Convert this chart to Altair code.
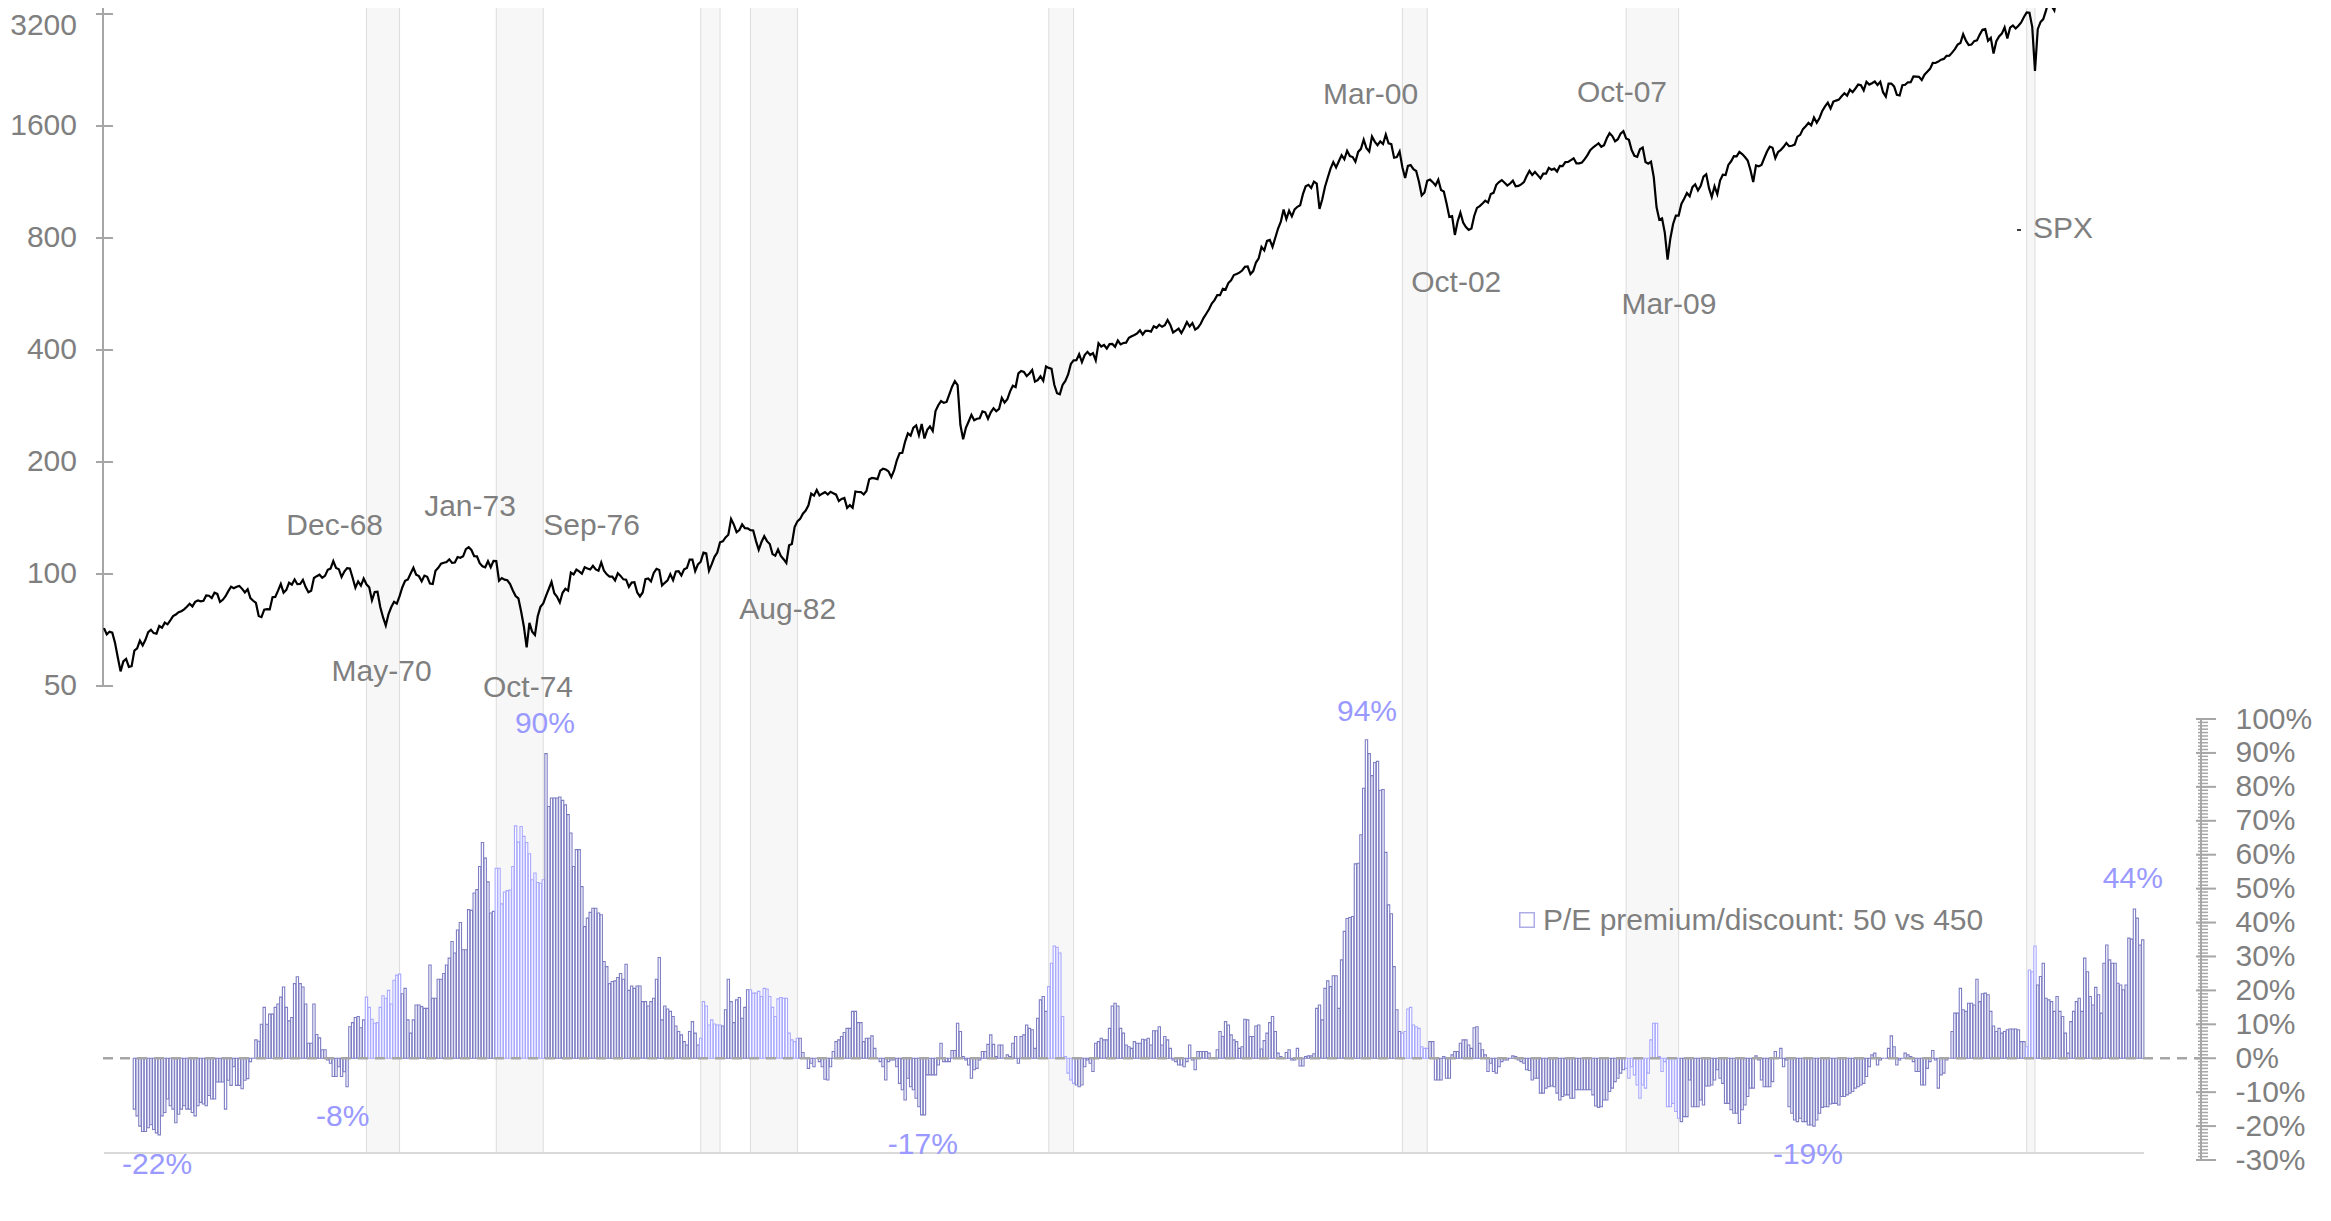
import altair as alt
import pandas as pd

# ---------------- data ----------------
# S&P 500 month-end closes, first value = Dec 1961
spx_1960s = [71.55,
    68.84, 69.96, 69.55, 65.24, 59.63, 54.75, 58.23, 59.12, 56.27, 56.52, 62.26, 63.10,
    66.20, 64.29, 66.57, 69.80, 70.80, 69.37, 69.13, 72.50, 71.70, 74.01, 73.23, 75.02,
    77.04, 77.80, 78.98, 79.46, 80.37, 81.69, 83.18, 81.83, 84.18, 84.86, 84.42, 84.75,
    87.56, 87.43, 86.16, 89.11, 88.42, 84.12, 85.25, 87.17, 89.96, 92.42, 91.61, 92.43,
    92.88, 91.22, 89.23, 91.06, 86.13, 84.74, 83.60, 77.10, 76.56, 80.20, 80.45, 80.33,
    86.61, 86.78, 90.20, 94.01, 89.08, 90.64, 94.75, 93.64, 96.71, 93.90, 94.00, 96.47,
    92.24, 89.36, 90.20, 97.59, 98.68, 99.58, 97.74, 98.86, 102.67, 103.41, 108.37, 103.86,
    103.01, 98.13, 101.51, 103.69, 103.46, 97.71, 91.83, 95.51, 93.12, 97.24, 93.81, 92.06]
spx_1970s = [
    85.02, 89.50, 89.63, 81.52, 76.55, 72.72, 78.05, 81.52, 84.21, 83.25, 87.20, 92.15,
    95.88, 96.75, 100.31, 103.95, 99.63, 98.70, 95.58, 99.03, 98.34, 94.23, 93.99, 102.09,
    103.94, 106.57, 107.20, 107.67, 109.53, 107.14, 107.39, 111.09, 110.55, 111.58, 116.67, 118.05,
    116.03, 111.68, 111.52, 106.97, 104.95, 104.26, 108.22, 104.25, 108.43, 108.29, 95.96, 97.55,
    96.57, 96.22, 93.98, 90.31, 87.28, 86.00, 79.31, 72.15, 63.54, 73.90, 69.97, 68.56,
    76.98, 81.59, 83.36, 87.30, 91.15, 95.19, 88.75, 86.88, 83.87, 89.04, 91.24, 90.19,
    100.86, 99.71, 102.77, 101.64, 100.18, 104.28, 103.44, 102.91, 105.24, 102.90, 102.10, 107.46,
    102.03, 99.82, 98.42, 98.44, 96.12, 100.48, 98.85, 96.77, 96.53, 92.34, 94.83, 95.10,
    89.25, 87.04, 89.21, 96.83, 97.24, 95.53, 100.68, 103.29, 102.54, 93.15, 94.70, 96.11,
    99.93, 96.28, 101.59, 101.76, 99.08, 102.91, 103.81, 109.32, 109.32, 101.82, 106.16, 107.94]
spx_1980s = [
    114.16, 113.66, 102.09, 106.29, 111.24, 114.24, 121.67, 122.38, 125.46, 127.47, 140.52, 135.76,
    129.55, 131.27, 136.00, 132.81, 132.59, 131.21, 130.92, 122.79, 116.18, 121.89, 126.35, 122.55,
    120.40, 113.11, 111.96, 116.44, 111.88, 109.61, 107.09, 119.51, 120.42, 133.71, 138.54, 140.64,
    145.30, 148.06, 152.96, 164.42, 162.39, 168.11, 162.56, 164.40, 166.07, 163.55, 166.40, 164.93,
    163.41, 157.06, 159.18, 160.05, 150.55, 153.18, 150.66, 166.68, 166.10, 166.09, 163.58, 167.24,
    179.63, 181.18, 180.66, 179.83, 189.55, 191.85, 190.92, 188.63, 182.08, 189.82, 202.17, 211.28,
    211.78, 226.92, 238.90, 235.52, 247.35, 250.84, 236.12, 252.93, 231.32, 243.98, 249.22, 242.17,
    274.08, 284.20, 291.70, 288.36, 290.10, 304.00, 318.66, 329.80, 321.83, 251.79, 230.30, 247.08,
    257.07, 267.82, 258.89, 261.33, 262.16, 273.50, 272.02, 261.52, 271.91, 278.97, 273.70, 277.72,
    297.47, 288.86, 294.87, 309.64, 320.52, 317.98, 346.08, 351.45, 349.15, 340.36, 345.99, 353.40]
spx_1990s = [
    329.08, 331.89, 339.94, 330.80, 361.23, 358.02, 356.15, 322.56, 306.05, 304.00, 322.22, 330.22,
    343.93, 367.07, 375.22, 375.35, 389.83, 371.16, 387.81, 395.43, 387.86, 392.45, 375.22, 417.09,
    408.79, 412.70, 403.69, 414.95, 415.35, 408.14, 424.21, 414.03, 417.80, 418.68, 431.35, 435.71,
    438.78, 443.38, 451.67, 440.19, 450.19, 450.53, 448.13, 463.56, 458.93, 467.83, 461.79, 466.45,
    481.61, 467.14, 445.77, 450.91, 456.50, 444.27, 458.26, 475.49, 462.69, 472.35, 453.69, 459.27,
    470.42, 487.39, 500.71, 514.71, 533.40, 544.75, 562.06, 561.88, 584.41, 581.50, 605.37, 615.93,
    636.02, 640.43, 645.50, 654.17, 669.12, 670.63, 639.95, 651.99, 687.33, 705.27, 757.02, 740.74,
    786.16, 790.82, 757.12, 801.34, 848.28, 885.14, 954.29, 899.47, 947.28, 914.62, 955.40, 970.43,
    980.28, 1049.34, 1101.75, 1111.75, 1090.82, 1133.84, 1120.67, 957.28, 1017.01, 1098.67, 1163.63, 1229.23,
    1279.64, 1238.33, 1286.37, 1335.18, 1301.84, 1372.71, 1328.72, 1320.41, 1282.71, 1362.93, 1388.91, 1469.25]
spx_2000s = [
    1394.46, 1366.42, 1498.58, 1452.43, 1420.60, 1454.60, 1430.83, 1517.68, 1436.51, 1429.40, 1314.95, 1320.28,
    1366.01, 1239.94, 1160.33, 1249.46, 1255.82, 1224.42, 1211.23, 1133.58, 1040.94, 1059.78, 1139.45, 1148.08,
    1130.20, 1106.73, 1147.39, 1076.92, 1067.14, 989.82, 911.62, 916.07, 815.28, 885.76, 936.31, 879.82,
    855.70, 841.15, 848.18, 916.92, 963.59, 974.50, 990.31, 1008.01, 995.97, 1050.71, 1058.20, 1111.92,
    1131.13, 1144.94, 1126.21, 1107.30, 1120.68, 1140.84, 1101.72, 1104.24, 1114.58, 1130.20, 1173.82, 1211.92,
    1181.27, 1203.60, 1180.59, 1156.85, 1191.50, 1191.33, 1234.18, 1220.33, 1228.81, 1207.01, 1249.48, 1248.29,
    1280.08, 1280.66, 1294.83, 1310.61, 1270.09, 1270.20, 1276.66, 1303.82, 1335.85, 1377.94, 1400.63, 1418.30,
    1438.24, 1406.82, 1420.86, 1482.37, 1530.62, 1503.35, 1455.27, 1473.99, 1526.75, 1549.38, 1481.14, 1468.36,
    1378.55, 1330.63, 1322.70, 1385.59, 1400.38, 1280.00, 1267.38, 1282.83, 1166.36, 968.75, 896.24, 903.25,
    825.88, 700.00, 797.87, 872.81, 919.14, 919.32, 987.48, 1020.62, 1057.08, 1036.19, 1095.63, 1115.10]
spx_2010s = [
    1073.87, 1104.49, 1169.43, 1186.69, 1089.41, 1030.71, 1101.60, 1049.33, 1141.20, 1183.26, 1180.55, 1257.64,
    1286.12, 1327.22, 1325.83, 1363.61, 1345.20, 1320.64, 1292.28, 1218.89, 1131.42, 1253.30, 1246.96, 1257.60,
    1312.41, 1365.68, 1408.47, 1397.91, 1310.33, 1362.16, 1379.32, 1406.58, 1440.67, 1412.16, 1416.18, 1426.19,
    1498.11, 1514.68, 1569.19, 1597.57, 1630.74, 1606.28, 1685.73, 1632.97, 1681.55, 1756.54, 1805.81, 1848.36,
    1782.59, 1859.45, 1872.34, 1883.95, 1923.57, 1960.23, 1930.67, 2003.37, 1972.29, 2018.05, 2067.56, 2058.90,
    1994.99, 2104.50, 2067.89, 2085.51, 2107.39, 2063.11, 2103.84, 1972.18, 1920.03, 2079.36, 2080.41, 2043.94,
    1940.24, 1932.23, 2059.74, 2065.30, 2096.95, 2098.86, 2173.60, 2170.95, 2168.27, 2126.15, 2198.81, 2238.83,
    2278.87, 2363.64, 2362.72, 2384.20, 2411.80, 2423.41, 2470.30, 2471.65, 2519.36, 2575.26, 2647.58, 2673.61,
    2823.81, 2713.83, 2640.87, 2648.05, 2705.27, 2718.37, 2816.29, 2901.52, 2913.98, 2711.74, 2760.17, 2506.85,
    2704.10, 2784.49, 2834.40, 2945.83, 2752.06, 2941.76, 2980.38, 2926.46, 2976.74, 3037.56, 3140.98, 3230.78]
spx_2020s = [
    3225.52, 2954.22, 2250.00, 2912.43, 3044.31, 3100.29, 3271.12, 3500.31, 3363.00, 3269.96, 3621.63, 3756.07,
    3714.24, 3811.15, 3972.89, 4181.17, 4204.11, 4297.50, 4395.26, 4522.68, 4307.54, 4605.38, 4567.00, 4766.18,
    4515.55, 4373.94, 4530.41, 4131.93, 4132.15, 3785.38, 4130.29, 3955.00, 3585.62, 3871.98, 4080.11, 3839.50,
    4076.60, 3970.15, 4109.31, 4169.48, 4179.83, 4450.38, 4588.96, 4507.66, 4288.05, 4193.80, 4567.80, 4769.83]

# P/E premium/discount (%), top 50 vs rest 450, monthly, first value = Dec 1962
pe_1960s = [-15,
    -17, -20, -21.6, -21.6, -20.5, -19.6, -21, -22, -22.6, -17, -16, -12,
    -14, -15, -19, -16.5, -15, -14, -15, -15, -16, -17, -14, -13,
    -13.5, -14, -11, -12, -12, -7, -7, -7, -15, -6.5, -8, -2.5,
    -8, -8, -9, -6.5, -6, -1, 0, 5.4, 5, 10, 15, 10,
    13, 13, 15, 16, 18, 21, 15, 11, 12, 22, 24, 22,
    21, 16, 4.4, 4.4, 16, 7, 6, 2.5, 2.5, -0.5, -1.5, -5.4,
    -5.4, -2.5, -5.4, -4, -8.4, 9.3, 10.5, 12, 12.3, 9, 11.3, 18]
pe_1970s = [
    15, 11.5, 10.3, 10.5, 15, 18.4, 17.7, 20, 16, 23, 24.5, 24.8,
    19, 20.6, 11.3, 7.4, 11.3, 15.7, 15.7, 15.2, 14.7, 14.7, 27.5, 17.7,
    17.7, 23.3, 23.3, 25, 27.5, 29.5, 34.4, 31, 37.8, 40, 32, 32,
    43.8, 43.6, 48.7, 49.7, 56.5, 63.6, 59, 52, 42.8, 43.3, 56, 56,
    45.5, 49, 49.4, 49.6, 56.5, 68.5, 63.7, 68.3, 65.4, 63.6, 60.3, 52.6,
    54.6, 51.8, 51.6, 52.6, 89.8, 74.2, 76.7, 76.7, 76.7, 77, 76, 74.7,
    71.8, 66.4, 56.5, 61.5, 61.5, 50.6, 38.8, 41.3, 43, 44.2, 44.2, 42.8,
    42.3, 28.5, 27, 22, 22.6, 22.8, 23.8, 25, 23.3, 27.7, 20, 21.3,
    20.6, 21.3, 21.3, 16.7, 16.7, 15.4, 16.7, 17.7, 23.3, 29.7, 11.3, 15.4,
    14.5, 13.8, 12.3, 9.5, 7.9, 6.9, 4.9, 3.9, 7.9, 10.8, 7.4, 3.9]
pe_1980s = [
    5.9, 16.7, 15.4, 9.8, 11.3, 10.1, 9.8, 9.8, 9.5, 14.3, 23.3, 16.7,
    10.5, 17.2, 17.9, 11.8, 15, 20.2, 20.2, 19.2, 19.2, 19.7, 18.2, 20.6,
    20.4, 18.2, 15, 12.3, 17.5, 17.9, 17.7, 17.7, 7.4, 5.4, 4.9, 5.9,
    5.9, 1.7, 0, -3, -1.5, -2.5, 0, -1, -2.5, -6.2, -6.4, -2.5,
    2, 4.9, 5.4, 6.4, 7.6, 8.8, 8.8, 13.8, 13.8, 10.5, 10.5, 4.9,
    5.9, 5.9, 6.6, 2.9, 0, -1, -2.5, -6.4, -1, -0.5, -0.5, -2.5,
    -7.4, -9.3, -12.3, -5.9, -8.4, -9.3, -11.8, -14.3, -16.7, -16.7, -4.9, -4.9,
    -4.9, -4.9, -2, 4.4, -1, -1, -1, 2.3, 2.3, 10.3, 7.9, 0.5,
    -0.5, -2, -5.9, -3.4, -3, -0.5, 2, 2, 4.1, 6.9, 4.1, 0.5,
    3.9, 3.9, 0, 1, 0.5, 4.4, 6.4, -1.5, 6.4, 6.9, 9.8, 8.8]
pe_1990s = [
    8.4, 2.9, 11.8, 17.2, 18.2, 13.8, 21.1, 28, 33.1, 32.7, 31, 12.3,
    0.5, -4.4, -6.4, -7.4, -7.9, -8.4, -7.9, -2.5, -0.5, -1.5, -3.9, 4.4,
    4.9, 5.9, 5.4, 5.4, 8.8, 15.4, 16.2, 15.4, 8.8, 7.4, 3.9, 3.4,
    2.9, 4.9, 4.4, 4.4, 5.6, 5.4, 5.9, 3.9, 8.1, 8.1, 9.3, 3.9,
    6.4, 5.4, 2.9, -0.5, -1, -2, -2, -2.5, -1, 3.9, -0.5, -3.4,
    2, 2, 2, 2, 1.5, 0, 0, 2.5, 7.9, 6.4, 10.8, 9.8,
    6.9, 5.4, 4.9, 2.9, 3.4, 11.5, 11.3, 6.4, 6.4, 9.5, 9.8, 2.7,
    5.2, 7.4, 10.5, 12.3, 7.9, 1.5, 0.5, 0, 1.7, 2.5, -0.5, -0.5,
    2.9, -2.3, -2.3, 0.5, 0.7, 0.7, 1.3, 14.7, 15.7, 11.3, 20.6, 22.8,
    21.1, 24.3, 24.3, 14.7, 29, 37.4, 41.2, 41.5, 41.8, 57.3, 57.5, 65.9]
pe_2000s = [
    79.6, 93.9, 89.8, 83.3, 87.2, 87.5, 79, 79.2, 60.7, 45.2, 42.6, 27,
    14.3, 7.9, 7.4, 7.9, 14.5, 15, 9.8, 9.3, 8.8, 3.4, 2.9, 2.9,
    4.9, 4.9, -6.4, -6.4, -6.4, 0.5, -5.9, -5.9, 1, 2, 2, 4.4,
    5.4, 5.4, 3.9, 2.9, 9, 9.3, 4.4, 2.5, 1, -3.9, -1.5, -3.9,
    -4.4, -2.5, -1, -0.5, -0.5, 0, 0.7, 0.5, -0.5, -1, -1.5, -3.4,
    -3.6, -6.4, -5.9, -5.9, -10.3, -10.3, -8.8, -8.4, -8.2, -8.4, -10.3, -12.3,
    -11.3, -10.8, -10.8, -11.8, -11.8, -9.3, -9.3, -9.3, -9.3, -9.3, -9.3, -10.8,
    -14.1, -14.5, -14.3, -12.3, -12.3, -9.8, -8.8, -6.9, -5.9, -4.4, -3.4, -3,
    -5.9, -2.5, -4.9, -7.9, -11.8, -7.9, -8.8, -4.4, 5.4, 10.3, 10.3, 0.5,
    -3.9, -1, -14.3, -14.3, -13.3, -15.7, -17.7, -18.7, -17.2, -17.2, -6.4, -14.3]
pe_2010s = [
    -14.3, -14.3, -12.3, -13.8, -8.2, -8.2, -7.9, -6.4, -3.4, -5.9, -7.4, -13.3,
    -13.3, -15.2, -16.2, -16.2, -19.2, -15.2, -13.8, -11.3, -8.8, -8.8, 0.7, -0.5,
    -6.4, -8.4, -8.4, -8.4, -6.9, 2, 0, 2.9, -2.5, -0.5, -14.3, -16.2,
    -18.2, -18.7, -17.7, -18.7, -18.7, -19.7, -19.7, -20, -18.2, -16.2, -14.5, -14.3,
    -14.3, -13.5, -13.3, -13.3, -13.8, -11.3, -11.3, -10.8, -10.3, -9.8, -8.8, -8.4,
    -7.9, -7.4, -5.4, -2.5, 1, 1.5, -2, -0.5, 0, 0, 2.9, 6.6,
    3.4, -2, -0.5, 0, 1.5, 1, 0.5, -1, -3.9, -3.9, -7.9, -7.9,
    -3, -1, 2.3, -0.5, -8.8, -4.9, -4.4, -0.5, 0, 7.9, 13.3, 13.3,
    20.6, 14.3, 13.8, 16.2, 16.2, 15.7, 23.3, 16.7, 19, 19.2, 18.7, 13.8,
    9.5, 7.9, 8.8, 7.4, 7.9, 8.4, 8.6, 8.6, 8.6, 8.4, 4.9, 4.9]
pe_2020s = [
    3.4, 26, 25.5, 33.1, 21.6, 24.1, 28, 17.7, 17.2, 16.7, 13.8, 18.2,
    13.8, 12.3, 7.4, 1.5, 10.8, 13.8, 16.7, 17.7, 13.8, 29.5, 25.5, 18.2,
    15.7, 20.9, 18.7, 13.3, 28, 33.4, 29, 28, 28, 22.1, 21.6, 20.2,
    21.6, 35.4, 35.1, 44, 41.3, 33.4, 34.9]

# recessions (peak month -> trough month)
rec_start_year = [1969, 1973, 1980, 1981, 1990, 2001, 2007, 2020]
rec_start_month = [12, 11, 1, 7, 7, 3, 12, 1]
rec_end_year = [1970, 1975, 1980, 1982, 1991, 2001, 2009, 2020]
rec_end_month = [11, 3, 7, 11, 3, 11, 6, 3]

year_ticks = list(range(1962, 2023, 3))
spx_ticks = [50, 100, 200, 400, 800, 1600, 3200]
pct_ticks = list(range(-30, 101, 10))
pct_minor = list(range(-30, 101, 1))

spx_label_text = ["Dec-68", "May-70", "Jan-73", "Oct-74", "Sep-76", "Aug-82",
                  "Mar-00", "Oct-02", "Oct-07", "Mar-09"]
spx_label_year = [1968, 1970, 1973, 1974, 1976, 1982, 2000, 2002, 2007, 2009]
spx_label_month = [12, 5, 1, 10, 9, 8, 3, 10, 10, 3]
spx_label_level = [134.5, 54.5, 151.4, 49.4, 134.5, 80.1, 1938, 605, 1962, 528]

pct_label_text = ["-22%", "-8%", "90%", "-17%", "94%", "-19%", "44%"]
pct_label_x = [1963.6, 1969.2, 1975.3, 1986.7, 2000.1, 2013.4, 2023.2]
pct_label_y = [-31.4, -17.3, 98.5, -25.6, 102.1, -28.5, 52.8]

# ---------------- frames ----------------
spx_vals = spx_1960s + spx_1970s + spx_1980s + spx_1990s + spx_2000s + spx_2010s + spx_2020s
spx_df = pd.DataFrame({"t": [1962 + i / 12 for i in range(len(spx_vals))], "v": spx_vals})

rec_df = pd.DataFrame({
    "s": [y + (m - 1) / 12 for y, m in zip(rec_start_year, rec_start_month)],
    "e": [y + m / 12 for y, m in zip(rec_end_year, rec_end_month)],
})
edge_df = pd.DataFrame({"edge": list(rec_df["s"]) + list(rec_df["e"])})

pe_vals = pe_1960s + pe_1970s + pe_1980s + pe_1990s + pe_2000s + pe_2010s + pe_2020s
pe_t = [1962 + (11 + i) / 12 for i in range(len(pe_vals))]
half = 0.42 / 12
pe_df = pd.DataFrame({"t": pe_t, "v": pe_vals})
pe_df["x0"] = pe_df["t"] - half
pe_df["x1"] = pe_df["t"] + half
pe_df["base"] = 0.0
pe_df["rec"] = ["in" if any((s <= t <= e) for s, e in zip(rec_df["s"], rec_df["e"])) else "out"
                for t in pe_df["t"]]

spx_lab_df = pd.DataFrame({
    "text": spx_label_text,
    "x": [y + (m - 0.5) / 12 for y, m in zip(spx_label_year, spx_label_month)],
    "y": spx_label_level,
})
pct_lab_df = pd.DataFrame({"text": pct_label_text, "x": pct_label_x, "y": pct_label_y})

xline_df = pd.DataFrame({"a": [1962.0], "b": [pe_t[-1] + 0.5 / 12]})
lax_df = pd.DataFrame({"lo": [50], "hi": [3321]})
lt_df = pd.DataFrame({"v": spx_ticks})
ltl_df = pd.DataFrame({"v": spx_ticks[:-1]})
ltl_top_df = pd.DataFrame({"v": spx_ticks[-1:]})
rax_df = pd.DataFrame({"lo": [-30], "hi": [100]})
rminor_df = pd.DataFrame({"v": pct_minor})
rmajor_df = pd.DataFrame({"v": pct_ticks})
zero_df = pd.DataFrame({"v": [0]})
one_df = pd.DataFrame({"a": [0]})

# ---------------- chart ----------------
W, H = 2098, 1152
FONT = "Liberation Sans"
GRAY = "#7f7f7f"
AXC = "#a6a6a6"
BLUE_TXT = "#9999ff"
BASE_Y = 1145  # pixel of the category axis line inside the plot

xscale = alt.Scale(domain=[1961.9698, 2025.2579], nice=False, zero=False)
logscale = alt.Scale(type="log", domain=[2.661, 3321], nice=False, zero=False)
pctscale = alt.Scale(domain=[-30, 309.6], nice=False, zero=False)

xaxis = alt.Axis(values=year_ticks, format="d", labelFontSize=30, labelFont=FONT,
                 labelColor=GRAY, ticks=False, tickSize=0, domain=False, grid=False,
                 labelPadding=25, title=None, labelOverlap=False, labelFlush=False,
                 labelBound=False)


def X(field, axis=None):
    return alt.X(field, type="quantitative", scale=xscale, axis=axis, title=None)


bands = alt.Chart(rec_df).mark_rect(fill="#f7f7f7", stroke=None).encode(
    x=X("s"), x2="e", y=alt.value(0), y2=alt.value(BASE_Y))

band_edges = alt.Chart(edge_df).mark_rule(color="#dcdcdc", strokeWidth=1).encode(
    x=X("edge"), y=alt.value(0), y2=alt.value(BASE_Y))

bars = alt.Chart(pe_df).mark_rect(fill="white", strokeWidth=1.1).encode(
    x=X("x0", axis=xaxis), x2="x1",
    y=alt.Y("v", type="quantitative", scale=pctscale, title=None,
            axis=alt.Axis(orient="right", values=pct_ticks, labelExpr="datum.value + '%'",
                          labelFontSize=30, labelFont=FONT, labelColor=GRAY, ticks=False,
                          tickSize=0, domain=False, grid=False, labelPadding=34,
                          labelOverlap=False, labelFlush=False, labelBound=False, title=None)),
    y2="base",
    stroke=alt.Stroke("rec", type="nominal",
                      scale=alt.Scale(domain=["out", "in"], range=["#7d7dc4", "#a8a8ff"]),
                      legend=None),
)

zero_line = alt.Chart(zero_df).mark_rule(color=AXC, strokeWidth=2.5, strokeDash=[10, 7]).encode(
    x=alt.value(0), x2=alt.value(W),
    y=alt.Y("v", type="quantitative", scale=pctscale, axis=None))

x_line = alt.Chart(xline_df).mark_rule(color="#d9d9d9", strokeWidth=2).encode(
    x=X("a"), x2="b", y=alt.value(BASE_Y))

left_axis = alt.Chart(lax_df).mark_rule(color=AXC, strokeWidth=2).encode(
    x=alt.value(0), y=alt.Y("lo", type="quantitative", scale=logscale, axis=None), y2="hi")
left_ticks = alt.Chart(lt_df).mark_rule(color=AXC, strokeWidth=2).encode(
    x=alt.value(-7), x2=alt.value(10),
    y=alt.Y("v", type="quantitative", scale=logscale, axis=None))
left_labels = alt.Chart(ltl_df).mark_text(
    align="right", baseline="middle", fontSize=30, font=FONT, color=GRAY).encode(
    x=alt.value(-26), y=alt.Y("v", type="quantitative", scale=logscale, axis=None),
    text=alt.Text("v", type="quantitative", format="d"))
left_label_top = alt.Chart(ltl_top_df).mark_text(
    align="right", baseline="middle", fontSize=30, font=FONT, color=GRAY, dy=12).encode(
    x=alt.value(-26), y=alt.Y("v", type="quantitative", scale=logscale, axis=None),
    text=alt.Text("v", type="quantitative", format="d"))

right_axis = alt.Chart(rax_df).mark_rule(color=AXC, strokeWidth=2).encode(
    x=alt.value(W), y=alt.Y("lo", type="quantitative", scale=pctscale, axis=None), y2="hi")
right_minor = alt.Chart(rminor_df).mark_rule(color=AXC, strokeWidth=1.5).encode(
    x=alt.value(W - 3), x2=alt.value(W + 7),
    y=alt.Y("v", type="quantitative", scale=pctscale, axis=None))
right_major = alt.Chart(rmajor_df).mark_rule(color=AXC, strokeWidth=2).encode(
    x=alt.value(W - 5), x2=alt.value(W + 15),
    y=alt.Y("v", type="quantitative", scale=pctscale, axis=None))

spx_line = alt.Chart(spx_df).mark_line(color="black", strokeWidth=2.2, clip=True).encode(
    x=X("t"),
    y=alt.Y("v", type="quantitative", scale=logscale, axis=None))

spx_labels = alt.Chart(spx_lab_df).mark_text(
    align="center", baseline="middle", fontSize=30, font=FONT, color=GRAY).encode(
    x=X("x"), y=alt.Y("y", type="quantitative", scale=logscale, axis=None), text="text")

pct_labels = alt.Chart(pct_lab_df).mark_text(
    align="center", baseline="middle", fontSize=30, font=FONT, color=BLUE_TXT).encode(
    x=X("x"), y=alt.Y("y", type="quantitative", scale=pctscale, axis=None), text="text")

pe_key = alt.Chart(one_df).mark_point(shape="square", filled=False, size=210,
                                      strokeWidth=1.5, color="#8c8cdc").encode(
    x=alt.value(1424), y=alt.value(912))
pe_key_text = alt.Chart(one_df).mark_text(
    text="P/E premium/discount: 50 vs 450", align="left", baseline="middle",
    fontSize=30, font=FONT, color=GRAY).encode(x=alt.value(1440), y=alt.value(913))
spx_key = alt.Chart(one_df).mark_rule(color="black", strokeWidth=1.5).encode(
    x=alt.value(1914), x2=alt.value(1918), y=alt.value(222))
spx_key_text = alt.Chart(one_df).mark_text(
    text="SPX", align="left", baseline="middle", fontSize=30, font=FONT,
    color=GRAY).encode(x=alt.value(1930), y=alt.value(221))

chart = alt.layer(
    bands, band_edges, bars, zero_line, x_line,
    left_axis, left_ticks, left_labels, left_label_top,
    right_axis, right_minor, right_major,
    spx_line, spx_labels, pct_labels, pe_key, pe_key_text, spx_key, spx_key_text,
).resolve_scale(y="independent").properties(
    width=W, height=H,
    autosize=alt.AutoSizeParams(type="none"),
    padding={"left": 95, "top": 0, "right": 112, "bottom": 52},
).configure(font=FONT, background="white").configure_view(stroke=None, strokeWidth=0)

chart.save("out.html", embed_options={"renderer": "svg", "actions": False})
